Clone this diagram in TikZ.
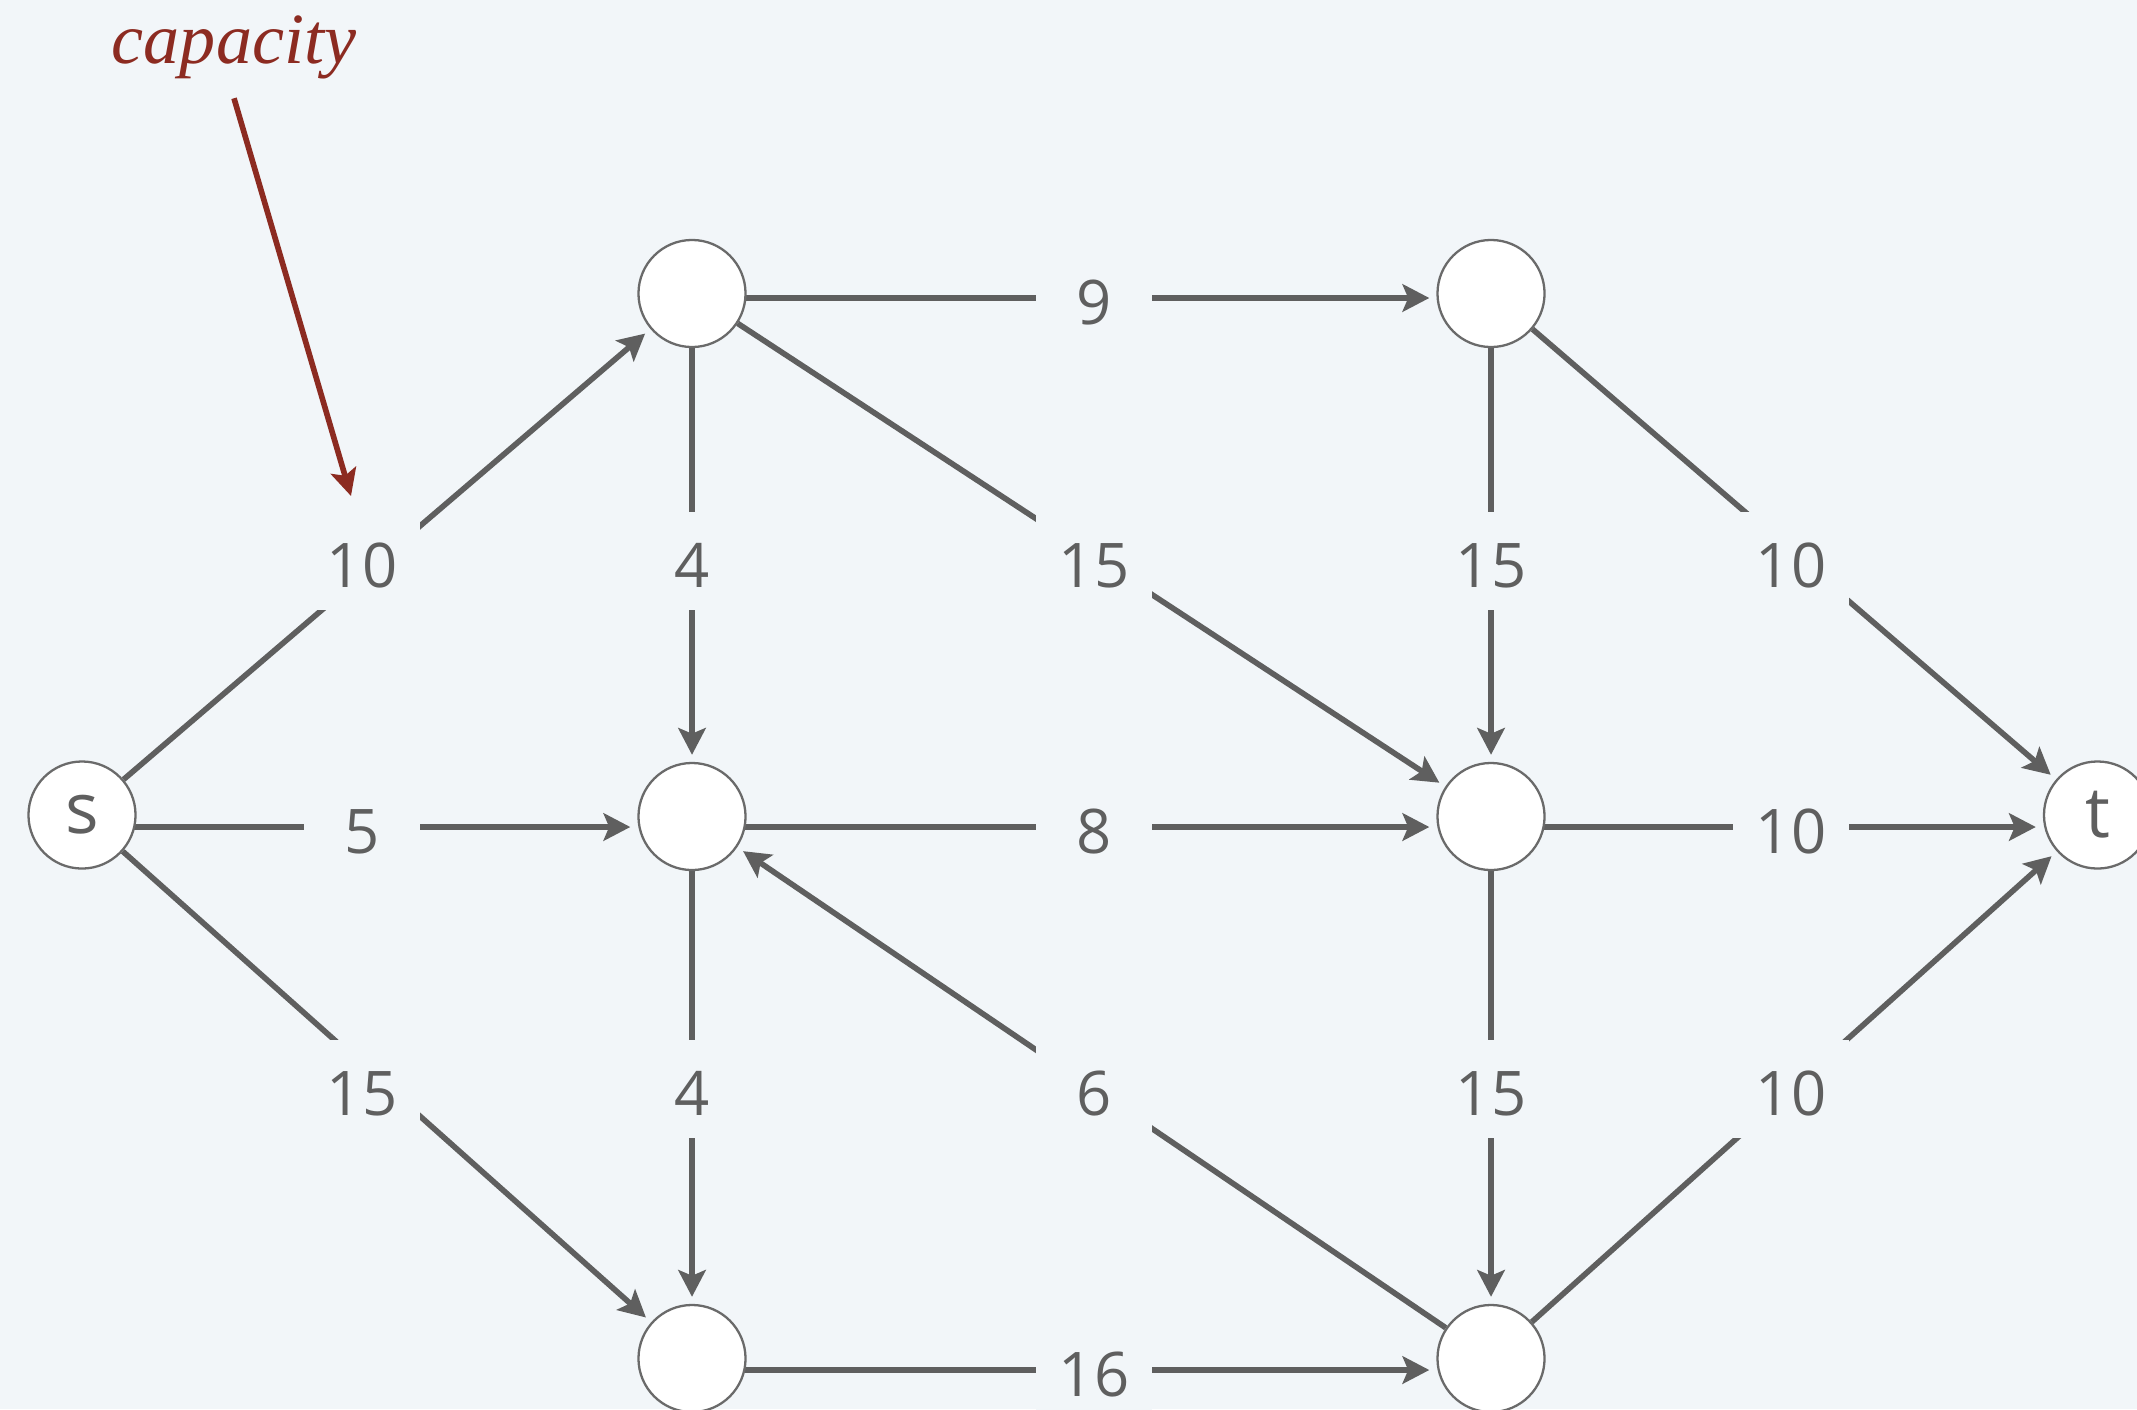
\documentclass[tikz,border=0pt]{standalone}
\usepackage{fontspec}
\setsansfont{Open Sans}
\newfontfamily\capfont{Liberation Serif}
\usetikzlibrary{arrows.meta,backgrounds}

\definecolor{paper}{HTML}{F2F6F9}
\definecolor{ink}{HTML}{5F5F5F}
\definecolor{rim}{HTML}{6A6A6A}
\definecolor{brick}{HTML}{8C2B21}

\begin{document}
\begin{tikzpicture}[
  x=0.01cm, y=-0.01cm,
  font=\sffamily\fontsize{17.5}{20}\selectfont,
  vtx/.style={circle, draw=rim, line width=0.65pt, fill=white, minimum size=1.07cm, inner sep=0pt, text=ink},
  term/.style={vtx, font=\sffamily\fontsize{20}{22}\selectfont},
  wt/.style={fill=paper, text=ink, minimum width=1.15cm, minimum height=0.98cm, inner sep=0pt, text height=15.3pt, text depth=0pt},
  arr/.style={draw=ink, line width=1.6pt, -{Stealth[length=7.6pt, width=7.8pt, inset=1.6pt]}, shorten >=2pt},
  pointer/.style={draw=brick, line width=1.6pt, -{Stealth[length=7.6pt, width=7.4pt, inset=1.6pt]}},
  note/.style={font=\capfont\itshape\fontsize{20.5}{24}\selectfont, text=brick, inner sep=0pt}
]
  \useasboundingbox (0,0) rectangle (2137,1409);

  \node[term] (s) at (82,815) {s};
  \node[vtx] (a) at (692,293.5) {};
  \node[vtx] (b) at (692,816.5) {};
  \node[vtx] (c) at (692,1358.5) {};
  \node[vtx] (d) at (1491,293.5) {};
  \node[vtx] (e) at (1491,816.5) {};
  \node[vtx] (f) at (1491,1358.5) {};
  \node[term] (t) at (2097.5,815) {t};

  \node[wt] (wad) at (1094,298) {9};
  \node[wt] (wsa) at (362,561) {10};
  \node[wt] (wab) at (692,561) {4};
  \node[wt] (wae) at (1094,561) {15};
  \node[wt] (wde) at (1491,561) {15};
  \node[wt] (wdt) at (1791,561) {10};
  \node[wt] (wsb) at (362,827) {5};
  \node[wt] (wbe) at (1094,827) {8};
  \node[wt] (wet) at (1791,827) {10};
  \node[wt] (wsc) at (362,1089) {15};
  \node[wt] (wbc) at (692,1089) {4};
  \node[wt] (wfb) at (1094,1089) {6};
  \node[wt] (wef) at (1491,1089) {15};
  \node[wt] (wft) at (1791,1089) {10};
  \node[wt] (wcf) at (1094,1370) {16};

  \node[note, anchor=base] (capt) at (234,63) {capacity};
  \coordinate (capt tip) at (351,496);
  \draw[pointer] ([yshift=-0.19cm]capt.south) -- (capt tip);

  \begin{scope}[on background layer]
    \fill[paper] (0,0) rectangle (2137,1409);
    \draw[arr] (s) -- (a);
    \draw[arr] (s |- wsb) -- (wsb -| b.west);
    \draw[arr] (s) -- (c);
    \draw[arr] (a) -- (b);
    \draw[arr] (a |- wad) -- (wad -| d.west);
    \draw[arr] (a) -- (e);
    \draw[arr] (b) -- (c);
    \draw[arr] (b |- wbe) -- (wbe -| e.west);
    \draw[arr] (d) -- (e);
    \draw[arr] (d) -- (t);
    \draw[arr] (e |- wet) -- (wet -| t.west);
    \draw[arr] (e) -- (f);
    \draw[arr] (f) -- (b);
    \draw[arr] (f) -- (t);
    \draw[arr] (c |- wcf) -- (wcf -| f.west);
  \end{scope}
\end{tikzpicture}
\end{document}
